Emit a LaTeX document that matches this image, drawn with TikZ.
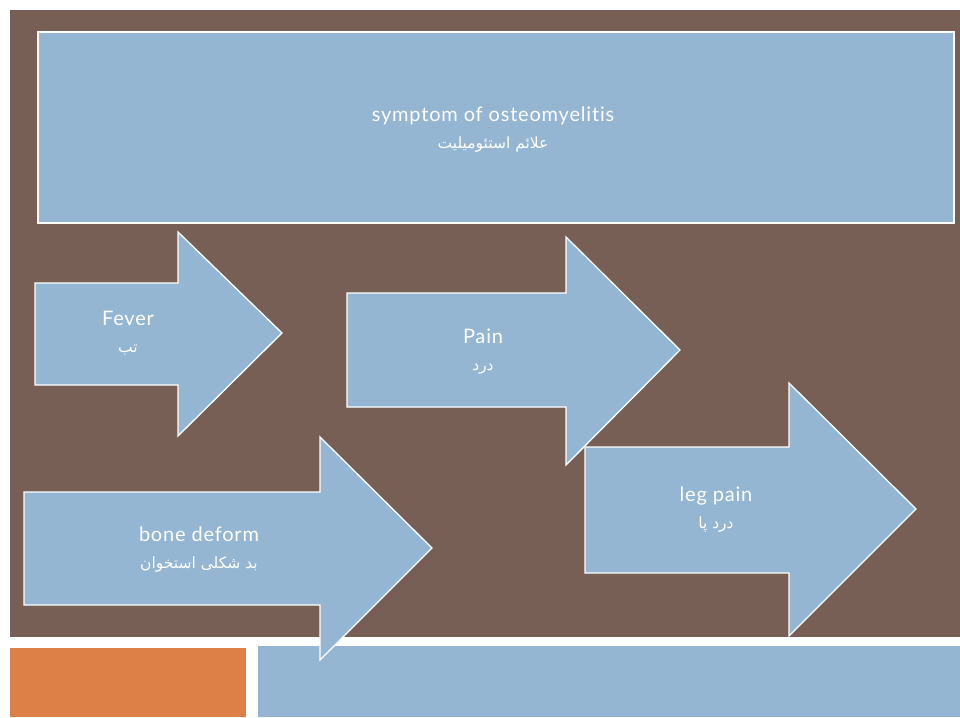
\documentclass[tikz,border=0pt]{standalone}
\usepackage{fontspec}
\setmainfont[LetterSpace=4,Ligatures=NoCommon]{Lato}
\newfontfamily\arabicfont[Script=Arabic]{DejaVu Sans}
\TeXXeTstate=1
\definecolor{flowbrown}{HTML}{775F55}
\definecolor{flowblue}{HTML}{94B6D2}
\definecolor{floworange}{HTML}{DD8047}
\tikzset{
  shapebox/.style={fill=flowblue, draw=white, line width=1.3pt, line join=miter},
  lbl/.style={text=white, align=center, font=\fontsize{20}{27}\selectfont, inner sep=0pt},
}
\newcommand{\ar}[1]{{\arabicfont\fontsize{15.5}{27}\selectfont\beginR #1\endR}}
\begin{document}
\begin{tikzpicture}[x=1pt,y=-1pt]
\useasboundingbox (0,0) rectangle (960,717);
\fill[white] (0,0) rectangle (960,717);
% background panels
\fill[flowbrown] (10,10) rectangle (960,637);
\fill[floworange] (10,648) rectangle (246,717);
\fill[flowblue] (258,646) rectangle (960,717);
% title box
\draw[shapebox] (38,32) rectangle (954,223);
\node[lbl] (title) at (493,130) {symptom of osteomyelitis\\\ar{علائم استئومیلیت}};
% Fever arrow
\draw[shapebox] (35,283) -- (178,283) -- (178,232) -- (282,333) -- (178,436) -- (178,385) -- (35,385) -- cycle;
\node[lbl] (fever) at (128,333) {Fever\\\ar{تب}};
% Pain arrow
\draw[shapebox] (347,293) -- (566,293) -- (566,237) -- (680,350) -- (566,465) -- (566,407) -- (347,407) -- cycle;
\node[lbl] (pain) at (483,352) {Pain\\\ar{درد}};
% bone deform arrow
\draw[shapebox] (24,492) -- (320,492) -- (320,437) -- (432,548) -- (320,660) -- (320,605) -- (24,605) -- cycle;
\node[lbl] (bone) at (199,550) {bone deform\\\ar{بد شکلی استخوان}};
% leg pain arrow
\draw[shapebox] (585,447) -- (789,447) -- (789,383) -- (916,509) -- (789,636) -- (789,573) -- (585,573) -- cycle;
\node[lbl] (leg) at (716,510) {leg pain\\\ar{درد پا}};
\end{tikzpicture}
\end{document}
